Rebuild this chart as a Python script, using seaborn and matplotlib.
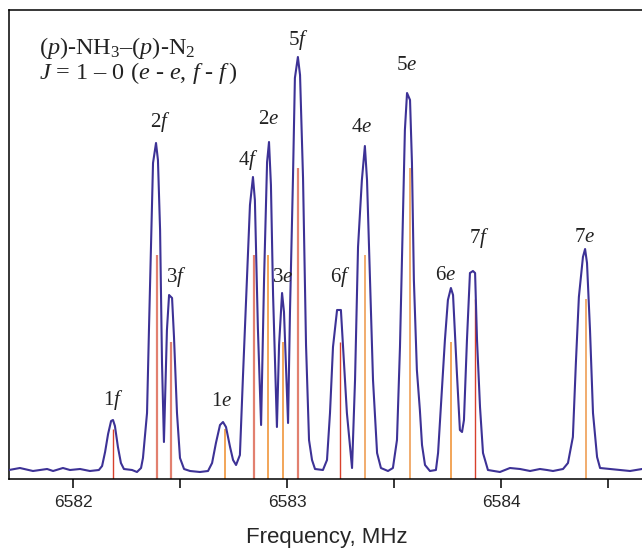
"""J = 1-0 band of (p)-NH3-(p)-N2: observed spectrum with calculated stick lines."""

import seaborn as sns
import matplotlib.pyplot as plt
from matplotlib.ticker import MultipleLocator, StrMethodFormatter

freq = [
    6581.701, 6581.752, 6581.813, 6581.879, 6581.907, 6581.953, 6581.986, 6582.033,
    6582.079, 6582.121, 6582.136, 6582.150, 6582.164, 6582.178, 6582.187, 6582.196,
    6582.210, 6582.224, 6582.238, 6582.276, 6582.299, 6582.318, 6582.327, 6582.346,
    6582.355, 6582.374, 6582.388, 6582.397, 6582.407, 6582.416, 6582.425, 6582.439,
    6582.449, 6582.463, 6582.472, 6582.486, 6582.500, 6582.519, 6582.547, 6582.593,
    6582.631, 6582.650, 6582.668, 6582.687, 6582.701, 6582.715, 6582.734, 6582.748,
    6582.762, 6582.780, 6582.794, 6582.813, 6582.827, 6582.841, 6582.850, 6582.864,
    6582.879, 6582.893, 6582.907, 6582.916, 6582.925, 6582.935, 6582.953, 6582.963,
    6582.977, 6582.986, 6583.005, 6583.014, 6583.028, 6583.037, 6583.051, 6583.061,
    6583.075, 6583.089, 6583.103, 6583.117, 6583.131, 6583.168, 6583.187, 6583.201,
    6583.215, 6583.234, 6583.252, 6583.262, 6583.280, 6583.304, 6583.318, 6583.332,
    6583.350, 6583.364, 6583.374, 6583.388, 6583.402, 6583.421, 6583.439, 6583.472,
    6583.495, 6583.514, 6583.528, 6583.542, 6583.551, 6583.561, 6583.575, 6583.584,
    6583.593, 6583.607, 6583.621, 6583.631, 6583.645, 6583.668, 6583.696, 6583.706,
    6583.724, 6583.738, 6583.752, 6583.766, 6583.776, 6583.794, 6583.808, 6583.818,
    6583.827, 6583.841, 6583.855, 6583.869, 6583.879, 6583.888, 6583.902, 6583.916,
    6583.939, 6583.995, 6584.042, 6584.089, 6584.136, 6584.182, 6584.215, 6584.243,
    6584.290, 6584.313, 6584.336, 6584.350, 6584.364, 6584.383, 6584.393, 6584.402,
    6584.416, 6584.430, 6584.449, 6584.463, 6584.509, 6584.556, 6584.603, 6584.659,
]
intensity = [
    -1, 1, -2, 0, -2, 1, -1, 0,
    -2, -1, 3, 17, 35, 48, 49, 43,
    22, 6, 0, -1, -3, 1, 11, 56,
    139, 306, 326, 309, 239, 106, 27, 139,
    174, 171, 132, 56, 11, 0, -2, -3,
    -2, 6, 26, 44, 47, 42, 22, 9,
    4, 14, 91, 191, 264, 292, 269, 141,
    44, 191, 307, 327, 284, 174, 42, 124,
    176, 157, 46, 157, 291, 391, 412, 394,
    291, 124, 29, 9, 0, -1, 9, 56,
    122, 159, 159, 122, 56, 1, 89, 222,
    289, 323, 289, 189, 89, 16, 1, -2,
    1, 29, 122, 256, 339, 376, 369, 306,
    189, 99, 59, 24, 4, -2, -1, 16,
    79, 129, 169, 181, 174, 96, 39, 37,
    49, 129, 196, 198, 196, 129, 62, 16,
    -1, -3, 1, 0, -2, 0, -1, -2,
    0, 6, 32, 106, 172, 212, 220, 206,
    139, 56, 12, 1, 0, -1, -2, 0,
]

# calculated transitions (stick spectrum)
line_labels = ["1f", "2f", "3f", "1e", "4f", "2e", "3e",
               "5f", "6f", "4e", "5e", "6e", "7f", "7e"]
line_freq = [6582.187, 6582.394, 6582.458, 6582.710, 6582.848, 6582.913, 6582.980,
             6583.051, 6583.247, 6583.364, 6583.575, 6583.766, 6583.879, 6584.397]
line_strength = [40, 214, 127, 40, 214, 214, 127,
                 301, 127, 214, 301, 127, 170, 170]
line_kind = ["red", "salmon", "salmon", "orange", "salmon", "orange", "orange",
             "salmon", "red", "light", "light", "orange", "red", "light"]

STICK_STYLE = {
    "red":    ("#d8402c", 1.0),
    "salmon": ("#e2806f", 1.6),
    "orange": ("#f0963c", 1.2),
    "light":  ("#f0a662", 1.3),
}
# label placement relative to (line frequency, observed peak top), in pixels
LABEL_OFFSET = {
    "1f": (0, 20), "2f": (3, 21), "3f": (5, 18), "1e": (-3, 20),
    "4f": (-6, 17), "2e": (0, 22), "3e": (0, 16), "5f": (0, 17),
    "6f": (0, 33), "4e": (-3, 19), "5e": (-3, 28), "6e": (-5, 13),
    "7f": (4, 33), "7e": (-1, 11),
}

sns.set_style("ticks")
plt.rcParams.update({
    "font.family": ["Liberation Sans", "DejaVu Sans"],
    "mathtext.fontset": "custom",
    "mathtext.rm": "Liberation Serif",
    "mathtext.it": "Liberation Serif:italic",
    "mathtext.bf": "Liberation Serif:bold",
})

fig = plt.figure(figsize=(6.42, 5.48), dpi=100)
ax = fig.add_axes([9 / 642, 69 / 548, 636 / 642, 469 / 548])

YMIN = -10
for f, s, k in zip(line_freq, line_strength, line_kind):
    c, lw = STICK_STYLE[k]
    ax.vlines(f, YMIN, s, color=c, linewidth=lw, zorder=2)

sns.lineplot(x=freq, y=intensity, sort=False, color="#3d3296",
             linewidth=1.5, ax=ax, zorder=3)

for lbl, f in zip(line_labels, line_freq):
    peak = max(i for x, i in zip(freq, intensity) if abs(x - f) < 0.025)
    dx, dy = LABEL_OFFSET[lbl]
    ax.annotate(f"${lbl}$", (f, peak), xytext=(dx, dy),
                textcoords="offset pixels", ha="center", va="center",
                fontsize=15, family="Liberation Serif", color="#222222")

ax.text(0.047, 0.919, r"$(p)$-NH$_3$–$(p)$-N$_2$", transform=ax.transAxes,
        ha="left", va="center", fontsize=17.5, family="Liberation Serif",
        color="#222222")
ax.text(0.047, 0.866, r"$J$ = 1 – 0 ($e$ - $e$, $f$ - $f\,$)",
        transform=ax.transAxes, ha="left", va="center", fontsize=17.5,
        family="Liberation Serif", color="#222222")

ax.set_xlim(6581.701, 6584.673)
ax.set_ylim(YMIN, 459)
ax.xaxis.set_major_locator(MultipleLocator(1))
ax.xaxis.set_minor_locator(MultipleLocator(0.5))
ax.xaxis.set_major_formatter(StrMethodFormatter("{x:.0f}"))
ax.set_yticks([])
ax.tick_params(axis="x", which="both", direction="out", length=6.5,
               width=1.1, color="black")
ax.tick_params(axis="x", which="major", labelsize=12.5, pad=5)
for sp in ax.spines.values():
    sp.set_linewidth(1.1)
    sp.set_color("black")

ax.set_xlabel("Frequency, MHz", fontsize=16)
ax.xaxis.label.set_va("center")
ax.xaxis.set_label_coords(0.5, -58 / 469)

fig.savefig("out.png", dpi=100)
